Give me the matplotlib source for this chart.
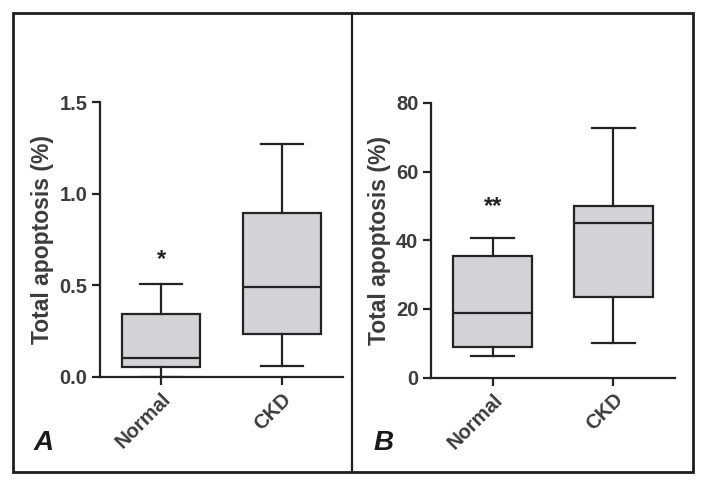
import matplotlib
matplotlib.use('Agg')
import matplotlib.pyplot as plt
from matplotlib.patches import Rectangle
from matplotlib.lines import Line2D

plt.rcParams['font.family'] = ['Liberation Sans', 'DejaVu Sans']

groups = ['Normal', 'CKD']

# panel A: total apoptosis (%)
a_low = [0.0, 0.06]
a_q1 = [0.055, 0.237]
a_med = [0.105, 0.49]
a_q3 = [0.344, 0.897]
a_high = [0.507, 1.27]
a_ticks = [0.0, 0.5, 1.0, 1.5]
a_ticklabels = ['0.0', '0.5', '1.0', '1.5']
a_star = ['*', '']
a_star_y = [0.64, None]

# panel B: total apoptosis (%)
b_low = [6.4, 10.2]
b_q1 = [8.9, 23.6]
b_med = [18.8, 45.0]
b_q3 = [35.4, 50.0]
b_high = [40.8, 72.6]
b_ticks = [0, 20, 40, 60, 80]
b_ticklabels = ['0', '20', '40', '60', '80']
b_star = ['**', '']
b_star_y = [49.8, None]

textc = '#3c3c3c'
linec = '#232323'
fillc = '#d3d3d5'

fig = plt.figure(figsize=(7.07, 4.87), dpi=100)
W, H = 707, 487


def panel(rect_px, low, q1, med, q3, high, ticks, ticklabels, star, star_y, letter, letter_x):
    x0, y0, x1, y1 = rect_px
    ax = fig.add_axes([x0 / W, 1 - y1 / H, (x1 - x0) / W, (y1 - y0) / H])
    stats = []
    for i, g in enumerate(groups):
        stats.append(dict(label=g, whislo=low[i], q1=q1[i], med=med[i],
                          q3=q3[i], whishi=high[i], fliers=[]))
    ax.bxp(stats, positions=[1, 2], widths=0.65, patch_artist=True,
           showfliers=False, zorder=3,
           boxprops=dict(facecolor=fillc, edgecolor=linec, linewidth=1.6),
           medianprops=dict(color=linec, linewidth=1.6),
           whiskerprops=dict(color=linec, linewidth=1.6),
           capprops=dict(color=linec, linewidth=1.6),
           capwidths=0.35)
    ax.set_xlim(0.49, 2.51)
    ax.set_ylim(ticks[0], ticks[-1])
    for s in ['top', 'right']:
        ax.spines[s].set_visible(False)
    for s in ['left', 'bottom']:
        ax.spines[s].set_color(linec)
        ax.spines[s].set_linewidth(1.6)
        ax.spines[s].set_zorder(4)
    ax.set_yticks(ticks)
    ax.set_yticklabels(ticklabels, fontsize=14.5, fontweight='bold', color=textc)
    ax.set_xticks([1, 2])
    ax.set_xticklabels(groups, fontsize=14.5, fontweight='bold', color=textc,
                       rotation=45, ha='right', rotation_mode='anchor')
    ax.tick_params(axis='both', length=6, width=1.6, color=linec, direction='out', pad=3)
    ax.set_ylabel('Total apoptosis (%)', fontsize=16.5, fontweight='bold', color=textc, labelpad=4)
    for i, s in enumerate(star):
        if s:
            ax.text(i + 1, star_y[i], s, ha='center', va='center', fontsize=17,
                    fontweight='bold', color=linec)
    fig.text(letter_x / W, 1 - 443 / H, letter, fontsize=20, fontweight='bold',
             style='italic', color='#1a1a1a', ha='center', va='center')
    return ax


panel((100, 102, 343, 377), a_low, a_q1, a_med, a_q3, a_high,
      a_ticks, a_ticklabels, a_star, a_star_y, 'A', 44)
panel((431, 103, 675, 377.5), b_low, b_q1, b_med, b_q3, b_high,
      b_ticks, b_ticklabels, b_star, b_star_y, 'B', 384)

# outer frame and divider
fig.add_artist(Rectangle((13 / W, 1 - 472 / H), 680 / W, 459 / H, fill=False,
                         edgecolor='#1e1e1e', linewidth=2.0, transform=fig.transFigure))
fig.add_artist(Line2D([352 / W, 352 / W], [1 - 472 / H, 1 - 13 / H],
                      color='#1e1e1e', linewidth=1.6, transform=fig.transFigure))

fig.savefig('out.png', dpi=100)
